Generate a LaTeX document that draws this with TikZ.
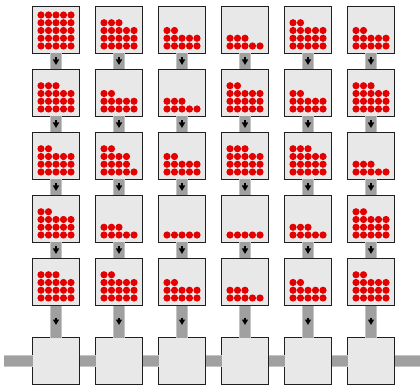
\documentclass[tikz,border=0pt]{standalone}
\usetikzlibrary{arrows.meta,decorations.markings}

\definecolor{trayfill}{RGB}{232,232,232}
\definecolor{barfill}{RGB}{160,160,160}
\definecolor{barlight}{RGB}{196,196,196}
\definecolor{beadred}{RGB}{228,0,0}

\tikzset{
	tray/.style={draw=black!88, fill=trayfill, line width=1.2, minimum size=47, inner sep=0, outer sep=0},
	bar/.style={draw=barlight, line width=12, postaction={draw=barfill, line width=10}},
	feed/.style={bar, postaction={decorate, decoration={markings, mark=at position 0.5 with {\draw[black, line width=1.8, -{Triangle[length=5.5,width=6]}] (-4,0) -- (3.5,0);}}}},
	bead/.style={fill=beadred}
}

% row counts of beads, bottom row first
\newcommand\heap[2]{%
	\foreach \n [count=\r from 0] in {#2} {
		\foreach \k in {1,...,\n} \fill[bead] (#1) ++({(\k-3)*7.5},{16-\r*7.75}) circle (3.6);
	}%
}

\begin{document}
\begin{tikzpicture}[x=1pt, y=-1pt]
	\useasboundingbox (0,0) rectangle (420,387);
	\foreach \c in {1,...,6} {
		\foreach \r in {1,...,5} \node[tray] (t\r\c) at ({56+63*(\c-1)},{30+63*(\r-1)}) {};
		\node[tray] (s\c) at ({56+63*(\c-1)},361) {};
	}
	\coordinate (inlet) at (4,361);
	\coordinate (outlet) at (420,361);

	% vertical feeds
	\foreach \c in {1,...,6} {
		\foreach \r [evaluate=\r as \n using int(\r+1)] in {1,...,4} \draw[feed] (t\r\c.south) -- (t\n\c.north);
		\draw[feed] (t5\c.south) -- (s\c.north);
	}
	% bottom line
	\draw[bar] (inlet) -- (s1.west);
	\foreach \c [evaluate=\c as \n using int(\c+1)] in {1,...,5} \draw[bar] (s\c.east) -- (s\n.west);
	\draw[bar] (s6.east) -- (outlet);

	% beads
	\heap{t11}{5,5,5,5,5} \heap{t12}{5,5,5,3} \heap{t13}{5,5,2} \heap{t14}{5,3} \heap{t15}{5,5,5,2} \heap{t16}{5,5,2}
	\heap{t21}{5,5,5,3} \heap{t22}{5,5,2} \heap{t23}{5,3} \heap{t24}{5,5,5,2} \heap{t25}{5,5,2} \heap{t26}{5,5,5,3}
	\heap{t31}{5,5,5,2} \heap{t32}{5,4,4,2} \heap{t33}{5,5,2} \heap{t34}{5,5,5,3} \heap{t35}{5,5,5,3} \heap{t36}{5,3}
	\heap{t41}{5,5,5,2} \heap{t42}{5,3} \heap{t43}{5} \heap{t44}{5} \heap{t45}{5,3} \heap{t46}{5,5,5,2}
	\heap{t51}{5,5,5,3} \heap{t52}{5,5,5,2} \heap{t53}{5,5,2} \heap{t54}{5,3} \heap{t55}{5,5,2} \heap{t56}{5,5,5,2}
\end{tikzpicture}
\end{document}
